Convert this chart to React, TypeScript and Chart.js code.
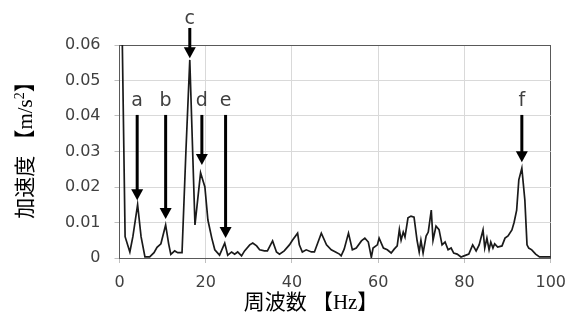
import React, { useEffect, useRef } from "react";
import { Chart, registerables } from "chart.js";

Chart.register(...registerables);

// Spectrum (frequency in Hz, acceleration in m/s^2)
const freqHz: number[] = [
  0.3, 1.3, 2.4, 3.1, 4.2, 5.0, 5.9, 7.0, 8.0, 8.7, 9.6, 10.7, 11.4, 11.9, 12.8, 13.5, 14.5, 15.4, 16.3, 17.5,
  18.8, 19.8, 20.5, 21.4, 22.1, 23.2, 24.4, 25.1, 26.0, 26.7, 27.4, 28.3, 29.0, 30.2, 30.9, 31.8, 32.5, 33.6, 34.3, 35.5,
  36.4, 37.1, 38.2, 39.4, 40.1, 41.3, 41.7, 42.4, 43.3, 44.5, 45.2, 46.8, 48.0, 49.1, 50.1, 51.0, 51.4, 52.1, 53.1, 54.0,
  54.9, 56.1, 56.9, 57.7, 58.4, 58.8, 59.8, 60.2, 61.2, 62.1, 63.0, 63.7, 64.4, 64.9, 65.3, 65.8, 66.2, 66.9, 67.6, 68.3,
  69.0, 69.5, 69.9, 70.4, 71.1, 71.6, 72.3, 72.7, 73.4, 74.1, 74.8, 75.5, 76.2, 76.9, 77.5, 78.3, 79.2, 79.9, 81.0, 81.9,
  82.7, 83.4, 84.3, 84.7, 85.2, 85.7, 86.1, 86.6, 87.0, 87.7, 88.7, 89.4, 90.1, 91.0, 91.5, 92.1, 92.6, 93.3, 94.0, 94.5,
  94.9, 95.6, 96.5, 97.4, 100.0,
];
const accel: number[] = [
  0.09, 0.006, 0.0017, 0.006, 0.015, 0.006, 0.0003, 0.0003, 0.0015, 0.003, 0.004, 0.0093, 0.004, 0.001, 0.002, 0.0015, 0.0015, 0.03, 0.0558, 0.0093,
  0.024, 0.02, 0.0107, 0.0056, 0.0023, 0.0008, 0.0042, 0.0008, 0.0017, 0.0011, 0.0017, 0.0006, 0.002, 0.0037, 0.0042, 0.0034, 0.0023, 0.002, 0.002, 0.0048,
  0.0017, 0.0011, 0.002, 0.0037, 0.005, 0.007, 0.0037, 0.0017, 0.0023, 0.0017, 0.0017, 0.007, 0.0037, 0.0023, 0.0017, 0.0011, 0.0006, 0.0025, 0.007, 0.0023,
  0.0028, 0.0048, 0.0056, 0.0045, 0.0002, 0.0028, 0.0037, 0.0056, 0.0028, 0.0023, 0.0014, 0.0025, 0.0034, 0.008, 0.005, 0.0073, 0.0059, 0.0113, 0.0118, 0.0115,
  0.005, 0.0017, 0.005, 0.0014, 0.0062, 0.0073, 0.0135, 0.005, 0.009, 0.008, 0.0037, 0.0045, 0.0023, 0.0028, 0.0014, 0.0011, 0.0003, 0.0006, 0.0011, 0.0037,
  0.002, 0.0037, 0.0079, 0.0028, 0.0056, 0.0023, 0.0045, 0.0028, 0.004, 0.0031, 0.0034, 0.0056, 0.0062, 0.0079, 0.01, 0.0135, 0.022, 0.0253, 0.0163, 0.0037,
  0.0028, 0.0023, 0.0011, 0.0003, 0.0003,
];

// Peak annotations (frequency, label height, arrow start, arrow tip)
const peakLabels: string[] = ["a", "b", "c", "d", "e", "f"];
const peakHz: number[] = [4.1, 10.7, 16.3, 19.1, 24.6, 93.3];
const peakLabelY: number[] = [0.0442, 0.0442, 0.0673, 0.0442, 0.0442, 0.0442];
const peakArrowFrom: number[] = [0.0403, 0.0403, 0.0648, 0.0403, 0.0403, 0.0403];
const peakArrowTo: number[] = [0.0163, 0.011, 0.0563, 0.0262, 0.0056, 0.027];

const xTitle = "周波数 【Hz】";
const yTitleParts: string[] = ["加速度 【m/s", "2", "】"];

const annotationPlugin = {
  id: "peakArrows",
  afterDraw(chart: any) {
    const { ctx, scales } = chart;
    const xs = scales.x;
    const ys = scales.y;
    ctx.save();
    for (let i = 0; i < peakLabels.length; i++) {
      const px = xs.getPixelForValue(peakHz[i]);
      const yl = ys.getPixelForValue(peakLabelY[i]);
      const y0 = ys.getPixelForValue(peakArrowFrom[i]);
      const y1 = ys.getPixelForValue(peakArrowTo[i]);
      ctx.fillStyle = "#404040";
      ctx.font = '19px "DejaVu Sans", sans-serif';
      ctx.textAlign = "center";
      ctx.textBaseline = "middle";
      ctx.fillText(peakLabels[i], px, yl);
      const head = 11;
      ctx.strokeStyle = "#000";
      ctx.lineWidth = 3;
      ctx.beginPath();
      ctx.moveTo(px, y0);
      ctx.lineTo(px, y1 - head + 1);
      ctx.stroke();
      ctx.fillStyle = "#000";
      ctx.beginPath();
      ctx.moveTo(px - 6, y1 - head);
      ctx.lineTo(px + 6, y1 - head);
      ctx.lineTo(px, y1);
      ctx.closePath();
      ctx.fill();
    }
    // x axis title
    ctx.fillStyle = "#000";
    const mainFont = '21px "Liberation Serif", "Noto Sans CJK JP", serif';
    const supFont = '14px "Liberation Serif", "Noto Sans CJK JP", serif';
    ctx.font = mainFont;
    ctx.textAlign = "center";
    ctx.textBaseline = "middle";
    ctx.fillText(xTitle, 311, 303);
    // y axis title (rotated, with superscript)
    ctx.font = mainFont;
    const w0 = ctx.measureText(yTitleParts[0]).width;
    const w2 = ctx.measureText(yTitleParts[2]).width;
    ctx.font = supFont;
    const w1 = ctx.measureText(yTitleParts[1]).width;
    const total = w0 + w1 + w2;
    ctx.translate(26, 145);
    ctx.rotate(-Math.PI / 2);
    ctx.textAlign = "left";
    let cx = -total / 2;
    ctx.font = mainFont;
    ctx.fillText(yTitleParts[0], cx, 0);
    cx += w0;
    ctx.font = supFont;
    ctx.fillText(yTitleParts[1], cx, -6);
    cx += w1;
    ctx.font = mainFont;
    ctx.fillText(yTitleParts[2], cx, 0);
    ctx.restore();
  },
};

export default function App() {
  const canvasRef = useRef<HTMLCanvasElement | null>(null);

  useEffect(() => {
    if (!canvasRef.current) return;
    const points = freqHz.map((f, i) => ({ x: f, y: accel[i] }));
    const tickFont = { family: '"DejaVu Sans", sans-serif', size: 16 };
    const chart = new Chart(canvasRef.current, {
      type: "line",
      data: {
        datasets: [
          {
            data: points,
            borderColor: "#1a1a1a",
            borderWidth: 1.7,
            pointRadius: 0,
            tension: 0,
            fill: false,
          },
        ],
      },
      options: {
        animation: false,
        responsive: true,
        maintainAspectRatio: false,
        layout: { padding: { top: 45, right: 24, left: 0, bottom: 0 } },
        plugins: { legend: { display: false }, tooltip: { enabled: false }, title: { display: false } },
        scales: {
          x: {
            type: "linear",
            min: 0,
            max: 100,
            afterFit: (s: any) => {
              s.height = 66;
            },
            ticks: {
              stepSize: 20,
              color: "#404040",
              font: tickFont,
              padding: 10,
              maxRotation: 0,
            },
            grid: {
              color: (c: any) => (c.tick && c.tick.value === 100 ? "#595959" : "#d9d9d9"),
              tickColor: "#bfbfbf",
              tickLength: 5,
            },
            border: { color: "#595959", width: 1 },
          },
          y: {
            min: 0,
            max: 0.06,
            afterFit: (s: any) => {
              s.width = 119.5;
            },
            ticks: {
              stepSize: 0.01,
              color: "#404040",
              font: tickFont,
              padding: 14,
              callback: (v: any) => (Number(v) === 0 ? "0" : Number(v).toFixed(2)),
            },
            grid: {
              color: (c: any) => (c.tick && Math.abs(c.tick.value - 0.06) < 1e-9 ? "#595959" : "#d9d9d9"),
              tickColor: "#bfbfbf",
              tickLength: 5,
            },
            border: { color: "#595959", width: 1 },
          },
        },
      },
      plugins: [annotationPlugin],
    });
    return () => chart.destroy();
  }, []);

  return (
    <div style={{ position: "absolute", left: 0, top: 0, width: 576, height: 324, background: "#fff" }}>
      <canvas ref={canvasRef} />
    </div>
  );
}
